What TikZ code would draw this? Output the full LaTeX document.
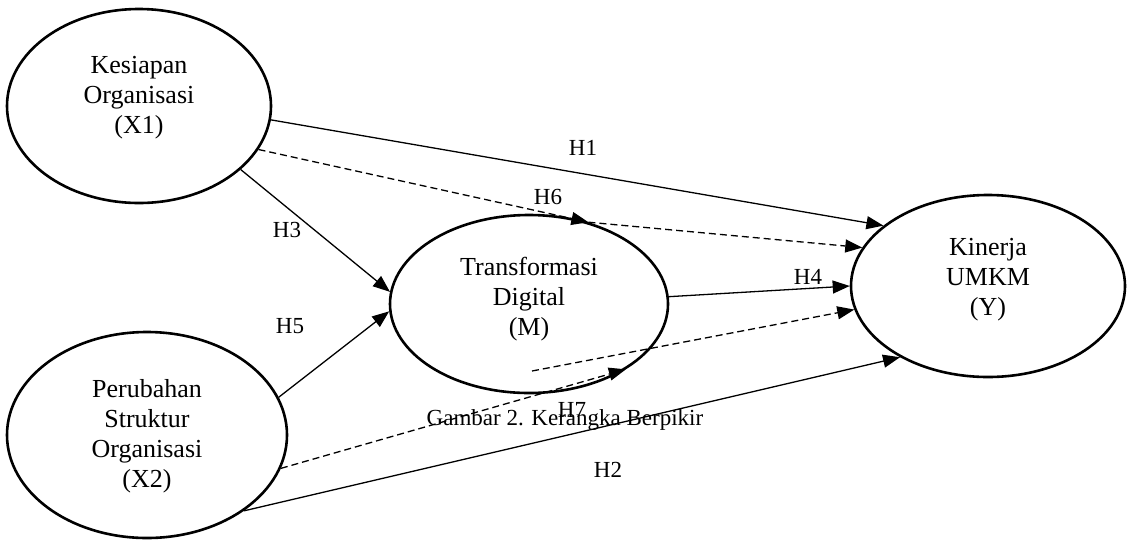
\documentclass[tikz,border=0pt]{standalone}
\usepackage{fontspec}
\setmainfont{Liberation Serif}
\usetikzlibrary{shapes.geometric,arrows.meta}
\tikzset{
  ell/.style={ellipse,draw,line width=2.6pt,inner sep=0pt},
  etext/.style={align=center,font=\fontsize{26}{30}\selectfont,inner sep=0pt},
  hlab/.style={font=\fontsize{23}{27}\selectfont,inner sep=0pt},
  conn/.style={line width=1.3pt,-{Triangle[length=17pt,width=13pt]}},
  dconn/.style={conn,dash pattern=on 7pt off 4pt}
}
\begin{document}
\begin{tikzpicture}[x=1pt,y=-1pt]
\useasboundingbox (0,0) rectangle (1129,542);
% ellipses
\node[ell,minimum width=264pt,minimum height=194pt] (x1) at (139,106) {};
\node[ell,minimum width=280pt,minimum height=206pt] (x2) at (147,435) {};
\node[ell,minimum width=278pt,minimum height=178pt] (m) at (529,304) {};
\node[ell,minimum width=274pt,minimum height=182pt] (y) at (988,286) {};
% texts
\node[etext] (x1t) at (139,98) {Kesiapan\\Organisasi\\(X1)};
\node[etext] (x2t) at (147,436) {Perubahan\\Struktur\\Organisasi\\(X2)};
\node[etext] (mt) at (529,299) {Transformasi\\Digital\\(M)};
\node[etext] (yt) at (988,280) {Kinerja\\UMKM\\(Y)};
% connectors
\draw[conn] (x1.-6.5) -- (y.150);
\draw[conn] (x1.-32) -- (m.175);
\draw[conn] (x2.16) -- (m.183);
\draw[conn] (m.3) -- (y.180);
\draw[conn] (x2.-38.7) -- (y.219);
% H6 indirect
\draw[dconn] (x1.-20.3) -- (m.54.3);
\draw[dconn] (m.54.3) -- (y.163);
% H7 indirect
\draw[dconn] (x2.-14.4) -- (m.-34.5);
\coordinate (m7) at (532,371);
\draw[dconn] (m7) -- (y.190);
% labels
\node[hlab] (h1) at (583,148) {H1};
\node[hlab] (h6) at (548,197) {H6};
\node[hlab] (h3) at (287,230) {H3};
\node[hlab] (h4) at (808,277) {H4};
\node[hlab] (h5) at (290,326) {H5};
\node[hlab] (h7) at (572,410) {H7};
\node[hlab] (h2) at (608,470) {H2};
\node[hlab,anchor=base] (cap) at (565,425) {Gambar 2. Kerangka Berpikir};
\end{tikzpicture}
\end{document}
